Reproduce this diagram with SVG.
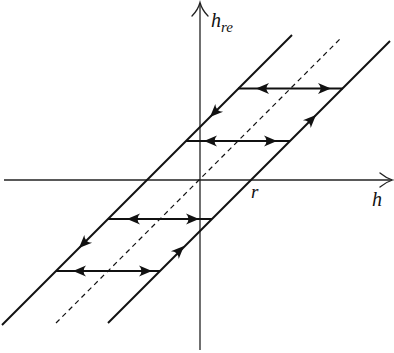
<svg xmlns="http://www.w3.org/2000/svg" width="394" height="353" viewBox="0 0 394 353">
<style>
.ax{stroke:#222;stroke-width:1.3;fill:none}
.ln{stroke:#111;stroke-width:1.9;fill:none}
.ds{stroke:#111;stroke-width:1.2;fill:none;stroke-dasharray:5,4}
.hz{stroke:#111;stroke-width:2;fill:none}
.ah{fill:#111;stroke:none}
.chev{stroke:#222;stroke-width:1.3;fill:none;stroke-linecap:round}
.lb{font-family:'Liberation Serif','DejaVu Serif',serif;font-style:italic;fill:#111}
</style>
<defs>
<path id="head" d="M0,0 L-13,-5.5 Q-8,0 -13,5.5 Z"/>
</defs>
<g id="axes">
<line class="ax" x1="4" y1="180" x2="392" y2="180"/>
<path class="chev" d="M380,173 Q386,178 392.5,180 Q386,182 380,187"/>
<line class="ax" x1="200" y1="350" x2="200" y2="3"/>
<path class="chev" d="M192,16 Q198,10 200,2.5 Q202,10 208,16"/>
</g>
<g id="connectors">
<line class="ln" x1="2" y1="325" x2="292" y2="35"/>
<line class="ln" x1="108" y1="323" x2="390" y2="41"/>
<line class="ds" x1="56" y1="323" x2="342" y2="37"/>
<line class="hz" x1="238" y1="88.5" x2="343" y2="88.5"/>
<line class="hz" x1="186" y1="141" x2="290" y2="141"/>
<line class="hz" x1="108" y1="219" x2="212" y2="219"/>
<line class="hz" x1="56" y1="271" x2="160" y2="271"/>
<use href="#head" class="ah" transform="translate(256,88.5) rotate(180)"/>
<use href="#head" class="ah" transform="translate(331,88.5)"/>
<use href="#head" class="ah" transform="translate(204,141) rotate(180)"/>
<use href="#head" class="ah" transform="translate(277,141)"/>
<use href="#head" class="ah" transform="translate(127,219) rotate(180)"/>
<use href="#head" class="ah" transform="translate(199,219)"/>
<use href="#head" class="ah" transform="translate(73,271) rotate(180)"/>
<use href="#head" class="ah" transform="translate(152,271)"/>
<use href="#head" class="ah" transform="translate(210,117) rotate(135)"/>
<use href="#head" class="ah" transform="translate(79,248) rotate(135)"/>
<use href="#head" class="ah" transform="translate(316,115) rotate(-45)"/>
<use href="#head" class="ah" transform="translate(184,246) rotate(-45)"/>
</g>
<g id="labels">
<text class="lb" font-family="Liberation Serif, serif" x="211" y="27" font-size="20">h<tspan font-size="15" dy="5">re</tspan></text>
<text class="lb" font-family="Liberation Serif, serif" x="251" y="198" font-size="19">r</text>
<text class="lb" font-family="Liberation Serif, serif" x="372" y="206" font-size="20">h</text>
</g>
</svg>
